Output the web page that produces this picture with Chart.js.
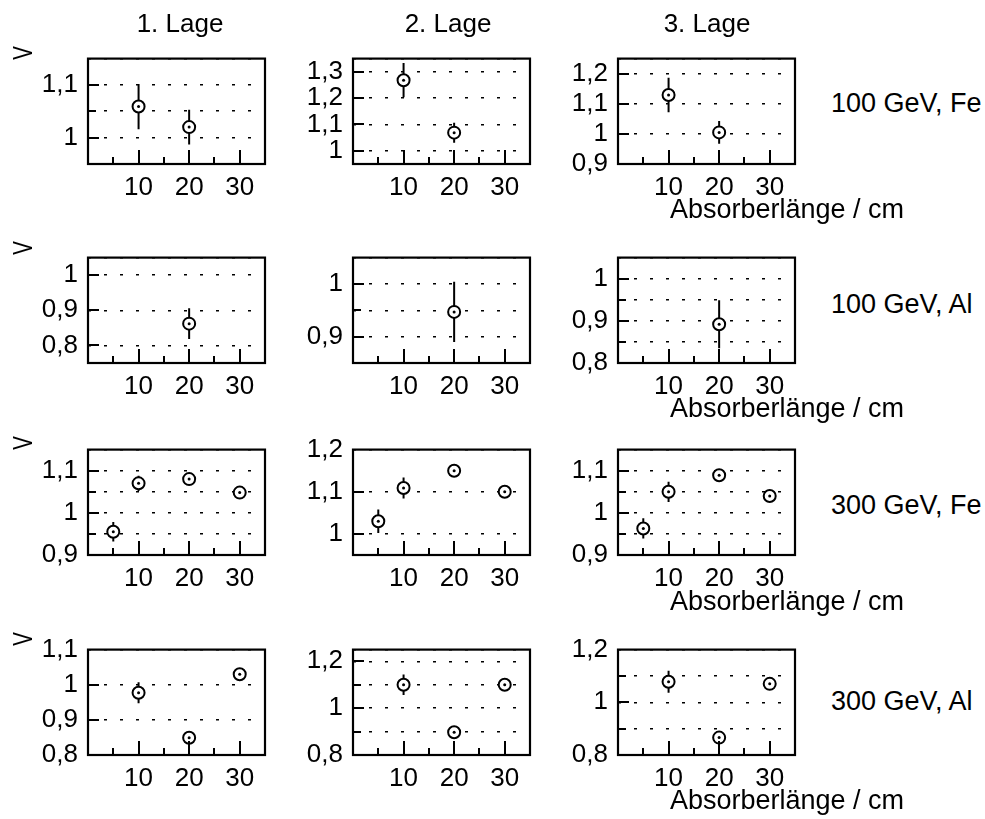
<!DOCTYPE html>
<html><head><meta charset="utf-8">
<script src="https://cdn.jsdelivr.net/npm/chart.js@4.4.0/dist/chart.umd.min.js"></script>
<style>
html,body{margin:0;padding:0;background:#fff;width:985px;height:819px;overflow:hidden;position:relative;font-family:"Liberation Sans",Arial,sans-serif;}
canvas{position:absolute;}
.t{position:absolute;white-space:nowrap;font-size:26px;line-height:1;color:#000;transform:translate(-50%,-50%);}
.x{position:absolute;white-space:nowrap;font-size:27px;line-height:1;color:#000;transform:translate(-50%,-50%);}
.l{position:absolute;white-space:nowrap;font-size:27px;line-height:1;color:#000;transform:translateY(-50%);}
.v{position:absolute;white-space:nowrap;font-size:26px;line-height:1;color:#000;transform:translate(-50%,-50%) scale(1.08,0.78) rotate(-90deg);}
</style></head><body>
<script>
// ---------- text ----------
const columnTitles = ['1. Lage', '2. Lage', '3. Lage'];
const rowTitles = ['100 GeV, Fe', '100 GeV, Al', '300 GeV, Fe', '300 GeV, Al'];
const xAxisTitle = 'Absorberlänge / cm';
const yAxisTitle = 'V';
const xTickLabels = [10, 20, 30];
const xMinorTicks = [5, 15, 25];

// ---------- absorber lengths (cm) per row ----------
const len100Fe = [10, 20];
const len100Al = [20];
const len300Fe = [5, 10, 20, 30];
const len300Al = [10, 20, 30];

// ---------- V values and errors: 100 GeV, Fe ----------
const v100Fe_L1 = [1.059, 1.020]; const e100Fe_L1 = [0.043, 0.033];
const v100Fe_L2 = [1.268, 1.069]; const e100Fe_L2 = [0.065, 0.038];
const v100Fe_L3 = [1.129, 1.005]; const e100Fe_L3 = [0.057, 0.038];
// 100 GeV, Al
const v100Al_L1 = [0.862]; const e100Al_L1 = [0.044];
const v100Al_L2 = [0.947]; const e100Al_L2 = [0.057];
const v100Al_L3 = [0.892]; const e100Al_L3 = [0.057];
// 300 GeV, Fe
const v300Fe_L1 = [0.955, 1.070, 1.080, 1.048]; const e300Fe_L1 = [0.023, 0.018, 0.008, 0.006];
const v300Fe_L2 = [1.030, 1.109, 1.150, 1.100]; const e300Fe_L2 = [0.028, 0.025, 0.008, 0.008];
const v300Fe_L3 = [0.963, 1.050, 1.089, 1.040]; const e300Fe_L3 = [0.024, 0.024, 0.008, 0.008];
// 300 GeV, Al
const v300Al_L1 = [0.977, 0.849, 1.030]; const e300Al_L1 = [0.030, 0.012, 0.010];
const v300Al_L2 = [1.100, 0.897, 1.100]; const e300Al_L2 = [0.044, 0.015, 0.015];
const v300Al_L3 = [1.078, 0.866, 1.070]; const e300Al_L3 = [0.042, 0.015, 0.015];

// ---------- y axes per row / column ----------
const yMin = [[0.95, 0.95, 0.9], [0.75, 0.85, 0.8], [0.9, 0.95, 0.9], [0.8, 0.8, 0.8]];
const yMax = [[1.15, 1.35, 1.25], [1.05, 1.05, 1.05], [1.15, 1.2, 1.15], [1.1, 1.25, 1.2]];
const yGridValues = [
  [[1, 1.05, 1.1], [1, 1.1, 1.2, 1.3], [1, 1.1, 1.2]],
  [[0.8, 0.9, 1], [0.9, 0.95, 1], [0.85, 0.9, 0.95, 1]],
  [[0.95, 1, 1.05, 1.1], [1, 1.1], [0.95, 1, 1.05, 1.1]],
  [[0.9, 1], [0.9, 1, 1.1, 1.2], [0.9, 1, 1.1]]
];
const yTickLabels = [
  [[1, 1.1], [1, 1.1, 1.2, 1.3], [0.9, 1, 1.1, 1.2]],
  [[0.8, 0.9, 1], [0.9, 1], [0.8, 0.9, 1]],
  [[0.9, 1, 1.1], [1, 1.1, 1.2], [0.9, 1, 1.1]],
  [[0.8, 0.9, 1, 1.1], [0.8, 1, 1.2], [0.8, 1, 1.2]]
];

const rowLengths = [len100Fe, len100Al, len300Fe, len300Al];
const rowValues = [
  [v100Fe_L1, v100Fe_L2, v100Fe_L3],
  [v100Al_L1, v100Al_L2, v100Al_L3],
  [v300Fe_L1, v300Fe_L2, v300Fe_L3],
  [v300Al_L1, v300Al_L2, v300Al_L3]
];
const rowErrors = [
  [e100Fe_L1, e100Fe_L2, e100Fe_L3],
  [e100Al_L1, e100Al_L2, e100Al_L3],
  [e300Fe_L1, e300Fe_L2, e300Fe_L3],
  [e300Al_L1, e300Al_L2, e300Al_L3]
];

// ---------- layout ----------
const FONT = '"Liberation Sans", Arial, sans-serif';
const colLeft = [88, 353, 618];
const rowTop = [53, 252, 444, 644];
const boxW = 177, boxH = 111;
const padL = 85, padR = 8, padT = 20, padB = 45;

const has = (arr, v) => arr.some(a => Math.abs(a - v) < 1e-9);
const fmt = v => String(Number(v.toFixed(3))).replace('.', ',');

const framePlugin = {
  id: 'frame',
  afterDatasetsDraw(chart, args, opts) {
    const { ctx, chartArea: a, scales: { x, y } } = chart;
    ctx.save();
    ctx.strokeStyle = '#000';
    ctx.lineWidth = 2;
    ctx.beginPath();
    const yt = [...new Set([...opts.grid, ...opts.labels])];
    yt.forEach(v => {
      if (v <= y.min + 1e-9 || v >= y.max - 1e-9) return;
      const py = Math.round(y.getPixelForValue(v));
      const len = has(opts.labels, v) ? 11 : 8;
      ctx.moveTo(a.left, py); ctx.lineTo(a.left + len, py);
    });
    xTickLabels.forEach(v => { const px = Math.round(x.getPixelForValue(v)); ctx.moveTo(px, a.bottom); ctx.lineTo(px, a.bottom - 14); });
    xMinorTicks.forEach(v => { const px = Math.round(x.getPixelForValue(v)); ctx.moveTo(px, a.bottom); ctx.lineTo(px, a.bottom - 7); });
    ctx.stroke();
    ctx.lineWidth = 2.2;
    ctx.strokeRect(a.left, a.top, a.right - a.left, a.bottom - a.top);
    ctx.restore();
  }
};

function makePanel(r, c) {
  const cv = document.createElement('canvas');
  cv.width = boxW + padL + padR;
  cv.height = boxH + padT + padB;
  cv.style.left = (colLeft[c] - padL) + 'px';
  cv.style.top = (rowTop[r] - padT) + 'px';
  document.body.appendChild(cv);
  const xs = rowLengths[r], vs = rowValues[r][c], es = rowErrors[r][c];
  const pts = xs.map((x, i) => ({ x: x, y: vs[i] }));
  const bars = [];
  xs.forEach((x, i) => { bars.push({ x: x, y: vs[i] - es[i] }, { x: x, y: vs[i] + es[i] }, { x: x, y: null }); });
  const grid = yGridValues[r][c], labels = yTickLabels[r][c];
  const yt = [...new Set([yMin[r][c], ...grid, ...labels, yMax[r][c]])].sort((a, b) => a - b);
  new Chart(cv, {
    type: 'scatter',
    data: { datasets: [
      { data: pts, pointRadius: 1.5, pointBackgroundColor: '#000', pointBorderWidth: 0, order: 0 },
      { data: pts, pointRadius: 6, pointBackgroundColor: '#fff', pointBorderColor: '#000', pointBorderWidth: 2, order: 1 },
      { data: bars, showLine: true, spanGaps: false, borderColor: '#000', borderWidth: 2, pointRadius: 0, order: 2 }
    ] },
    options: {
      responsive: false, animation: false, events: [],
      layout: { padding: { top: padT, right: padR, left: 0, bottom: 0 } },
      plugins: { legend: { display: false }, tooltip: { enabled: false }, frame: { grid: grid, labels: labels } },
      scales: {
        x: {
          type: 'linear', min: 0, max: 35,
          afterBuildTicks: s => { s.ticks = xTickLabels.map(v => ({ value: v })); },
          afterFit: s => { s.height = padB; },
          grid: { display: false, drawTicks: false }, border: { display: false },
          ticks: { color: '#000', font: { family: FONT, size: 26 }, padding: 8, maxRotation: 0, autoSkip: false }
        },
        y: {
          type: 'linear', min: yMin[r][c], max: yMax[r][c],
          afterBuildTicks: s => { s.ticks = yt.map(v => ({ value: v })); },
          afterFit: s => { s.width = padL; },
          grid: { color: '#000', lineWidth: 1.6, drawTicks: false },
          border: { display: false, dash: [3, 13] },
          ticks: { color: '#000', font: { family: FONT, size: 26 }, padding: 10, autoSkip: false,
                   callback: v => has(labels, v) ? fmt(v) : '' }
        }
      }
    },
    plugins: [framePlugin]
  });
}

for (let r = 0; r < 4; r++) for (let c = 0; c < 3; c++) makePanel(r, c);

// ---------- HTML text ----------
function addText(cls, txt, x, y) {
  const d = document.createElement('div');
  d.className = cls; d.textContent = txt;
  d.style.left = x + 'px'; d.style.top = y + 'px';
  document.body.appendChild(d);
}
const colTitleX = [180, 448, 707];
columnTitles.forEach((t, i) => addText('t', t, colTitleX[i], 23));
const rowTitleY = [102.5, 303.5, 505, 700.5];
rowTitles.forEach((t, i) => addText('l', t, 831, rowTitleY[i]));
const xTitleY = [208.5, 407.5, 601, 799.5];
xTitleY.forEach(y => addText('x', xAxisTitle, 787, y));
const vTitleY = [53, 247.5, 442.5, 639];
vTitleY.forEach(y => addText('v', yAxisTitle, 22, y));
</script>
</body></html>
